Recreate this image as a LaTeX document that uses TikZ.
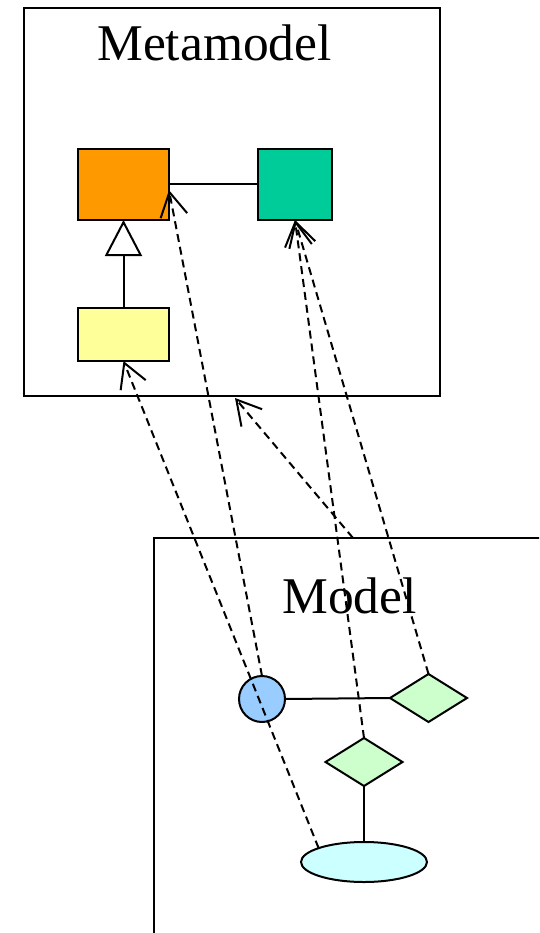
\documentclass[tikz,border=0pt]{standalone}
\usepackage{fontspec}
\setmainfont{Liberation Serif}
\usetikzlibrary{shapes.geometric,arrows.meta}
\begin{document}
\begin{tikzpicture}[x=1pt,y=-1pt,line width=2pt,
  box/.style={draw,rectangle,inner sep=0pt,outer sep=0pt},
  dia/.style={draw,diamond,fill=dgreen,inner sep=0pt,outer sep=0pt,minimum width=77pt,minimum height=48pt},
  link/.style={draw},
  inst/.style={draw,dash pattern=on 8pt off 5pt,-{Straight Barb[length=24pt,width=27pt]}},
  inherit/.style={draw,-{Triangle[open,length=36pt,width=37pt,fill=white]}},
  title/.style={font=\fontsize{51.5}{60}\selectfont,anchor=base,inner sep=0pt}]
\definecolor{corange}{HTML}{FF9900}
\definecolor{cteal}{HTML}{00CC99}
\definecolor{cyellow}{HTML}{FFFF99}
\definecolor{cblue}{HTML}{99CCFF}
\definecolor{dgreen}{HTML}{CCFFCC}
\definecolor{ccyan}{HTML}{CCFFFF}
\useasboundingbox (0,0) rectangle (539,933);
\clip (0,0) rectangle (539,933);
% frames
\node[box,minimum width=416pt,minimum height=388pt] (meta) at (232,202) {};
\node[box,minimum width=486pt,minimum height=502pt] (model) at (397,789) {};
\node[title] (metatitle) at (214.5,61) {Metamodel};
\node[title] (modeltitle) at (349.5,613) {Model};
% metamodel classes
\node[box,fill=corange,minimum width=91pt,minimum height=71pt] (orange) at (123.5,184.5) {};
\node[box,fill=cteal,minimum width=74pt,minimum height=71pt] (teal) at (295,184.5) {};
\node[box,fill=cyellow,minimum width=91pt,minimum height=53pt] (yellow) at (123.5,334.5) {};
\draw[link] (orange.east) -- (teal.west);
\draw[inherit] (yellow.north) -- (orange.south);
% model elements
\node[draw,circle,fill=cblue,minimum size=46pt,inner sep=0pt,outer sep=0pt] (circ) at (262,699) {};
\node[dia] (d1) at (428.5,698) {};
\node[dia] (d2) at (364,762) {};
\node[draw,ellipse,fill=ccyan,minimum width=126pt,minimum height=40pt,inner sep=0pt,outer sep=0pt] (ell) at (364,862) {};
\draw[link] (circ.east) -- (d1.west);
\draw[link] (d2.south) -- (ell.north);
% instance-of arrows
\coordinate (mtop) at (353,538);
\coordinate (mbot) at (235,398);
\draw[inst] (ell.163) -- (yellow.south);
\draw[inst] (circ.north) -- (orange.-7);
\draw[inst] (d2.north) -- (teal.south);
\draw[inst] (d1.north) -- (teal.south);
\draw[inst] (mtop) -- (mbot);
\end{tikzpicture}
\end{document}
